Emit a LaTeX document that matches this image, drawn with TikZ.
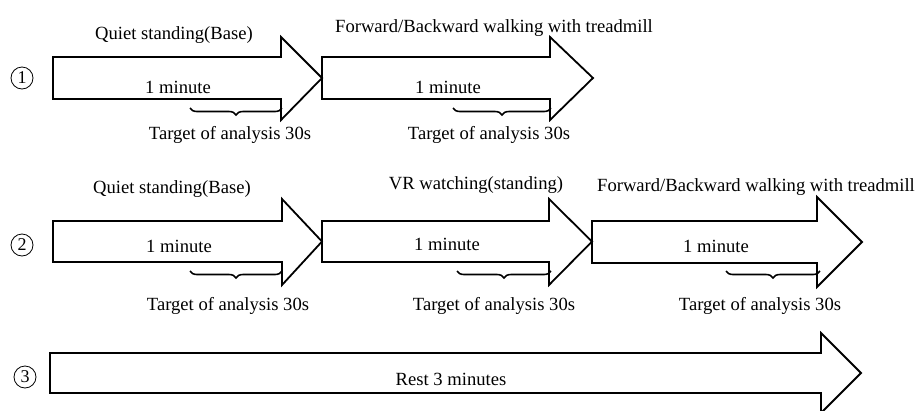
\documentclass[tikz,border=0pt]{standalone}
\usepackage{fontspec}
\setmainfont{Liberation Serif}
\usetikzlibrary{decorations.pathreplacing}
\newcommand\blockarrow[7]{%
  \draw[arrowline] (#1,#4) -- (#2,#4) -- (#2,#6) -- (#3,{(#4+#5)/2}) -- (#2,#7) -- (#2,#5) -- (#1,#5) -- cycle;}
\begin{document}
\begin{tikzpicture}[x=1pt,y=-1pt,
  arrowline/.style={line width=1.8pt, line join=miter, draw=black},
  lbl/.style={font=\fontsize{18.6}{22}\selectfont, anchor=base, inner sep=0pt},
  bracestyle/.style={decorate, decoration={brace, mirror, amplitude=7pt}, line width=1.6pt},
  numcirc/.style={circle, draw, line width=0.8pt, minimum size=22pt, inner sep=0pt, font=\fontsize{18}{20}\selectfont}]
\useasboundingbox (0,0) rectangle (919,410);
% row 1
\blockarrow{53}{281}{322}{57}{99}{37}{120}
\blockarrow{322}{550}{593}{57}{99}{37}{120}
% row 2
\blockarrow{53}{282}{322}{221}{262}{199}{285}
\blockarrow{322}{549}{592}{221}{262}{199}{285}
\blockarrow{592}{817}{862}{221}{263}{197}{287}
% row 3
\blockarrow{50}{821}{861}{353}{393}{333}{413}
% circled numbers
\node[numcirc] (n1) at (22,78) {1};
\node[numcirc] (n2) at (22,245) {2};
\node[numcirc] (n3) at (25,377) {3};
% top labels
\node[lbl] (t1a) at (174,39) {Quiet standing(Base)};
\node[lbl] (t1b) at (494,32) {Forward/Backward walking with treadmill};
\node[lbl] (t2a) at (172,193) {Quiet standing(Base)};
\node[lbl] (t2b) at (476,189) {VR watching(standing)};
\node[lbl] (t2c) at (756,191) {Forward/Backward walking with treadmill};
% durations
\node[lbl] (m1a) at (178,93) {1 minute};
\node[lbl] (m1b) at (448,93) {1 minute};
\node[lbl] (m2a) at (179,252) {1 minute};
\node[lbl] (m2b) at (447,250) {1 minute};
\node[lbl] (m2c) at (716,252) {1 minute};
\node[lbl] (m3) at (451,385) {Rest 3 minutes};
% braces
\coordinate (b1aL) at (190,108); \coordinate (b1aR) at (282,108);
\coordinate (b1bL) at (453,108); \coordinate (b1bR) at (551,108);
\coordinate (b2aL) at (190,271); \coordinate (b2aR) at (282,271);
\coordinate (b2bL) at (457,271); \coordinate (b2bR) at (551,271);
\coordinate (b2cL) at (726,271); \coordinate (b2cR) at (820,271);
\draw[bracestyle] (b1aL) -- (b1aR);
\draw[bracestyle] (b1bL) -- (b1bR);
\draw[bracestyle] (b2aL) -- (b2aR);
\draw[bracestyle] (b2bL) -- (b2bR);
\draw[bracestyle] (b2cL) -- (b2cR);
% target labels
\node[lbl] (a1a) at (230,139) {Target of analysis 30s};
\node[lbl] (a1b) at (489,139) {Target of analysis 30s};
\node[lbl] (a2a) at (228,310) {Target of analysis 30s};
\node[lbl] (a2b) at (494,310) {Target of analysis 30s};
\node[lbl] (a2c) at (760,310) {Target of analysis 30s};
\end{tikzpicture}
\end{document}
